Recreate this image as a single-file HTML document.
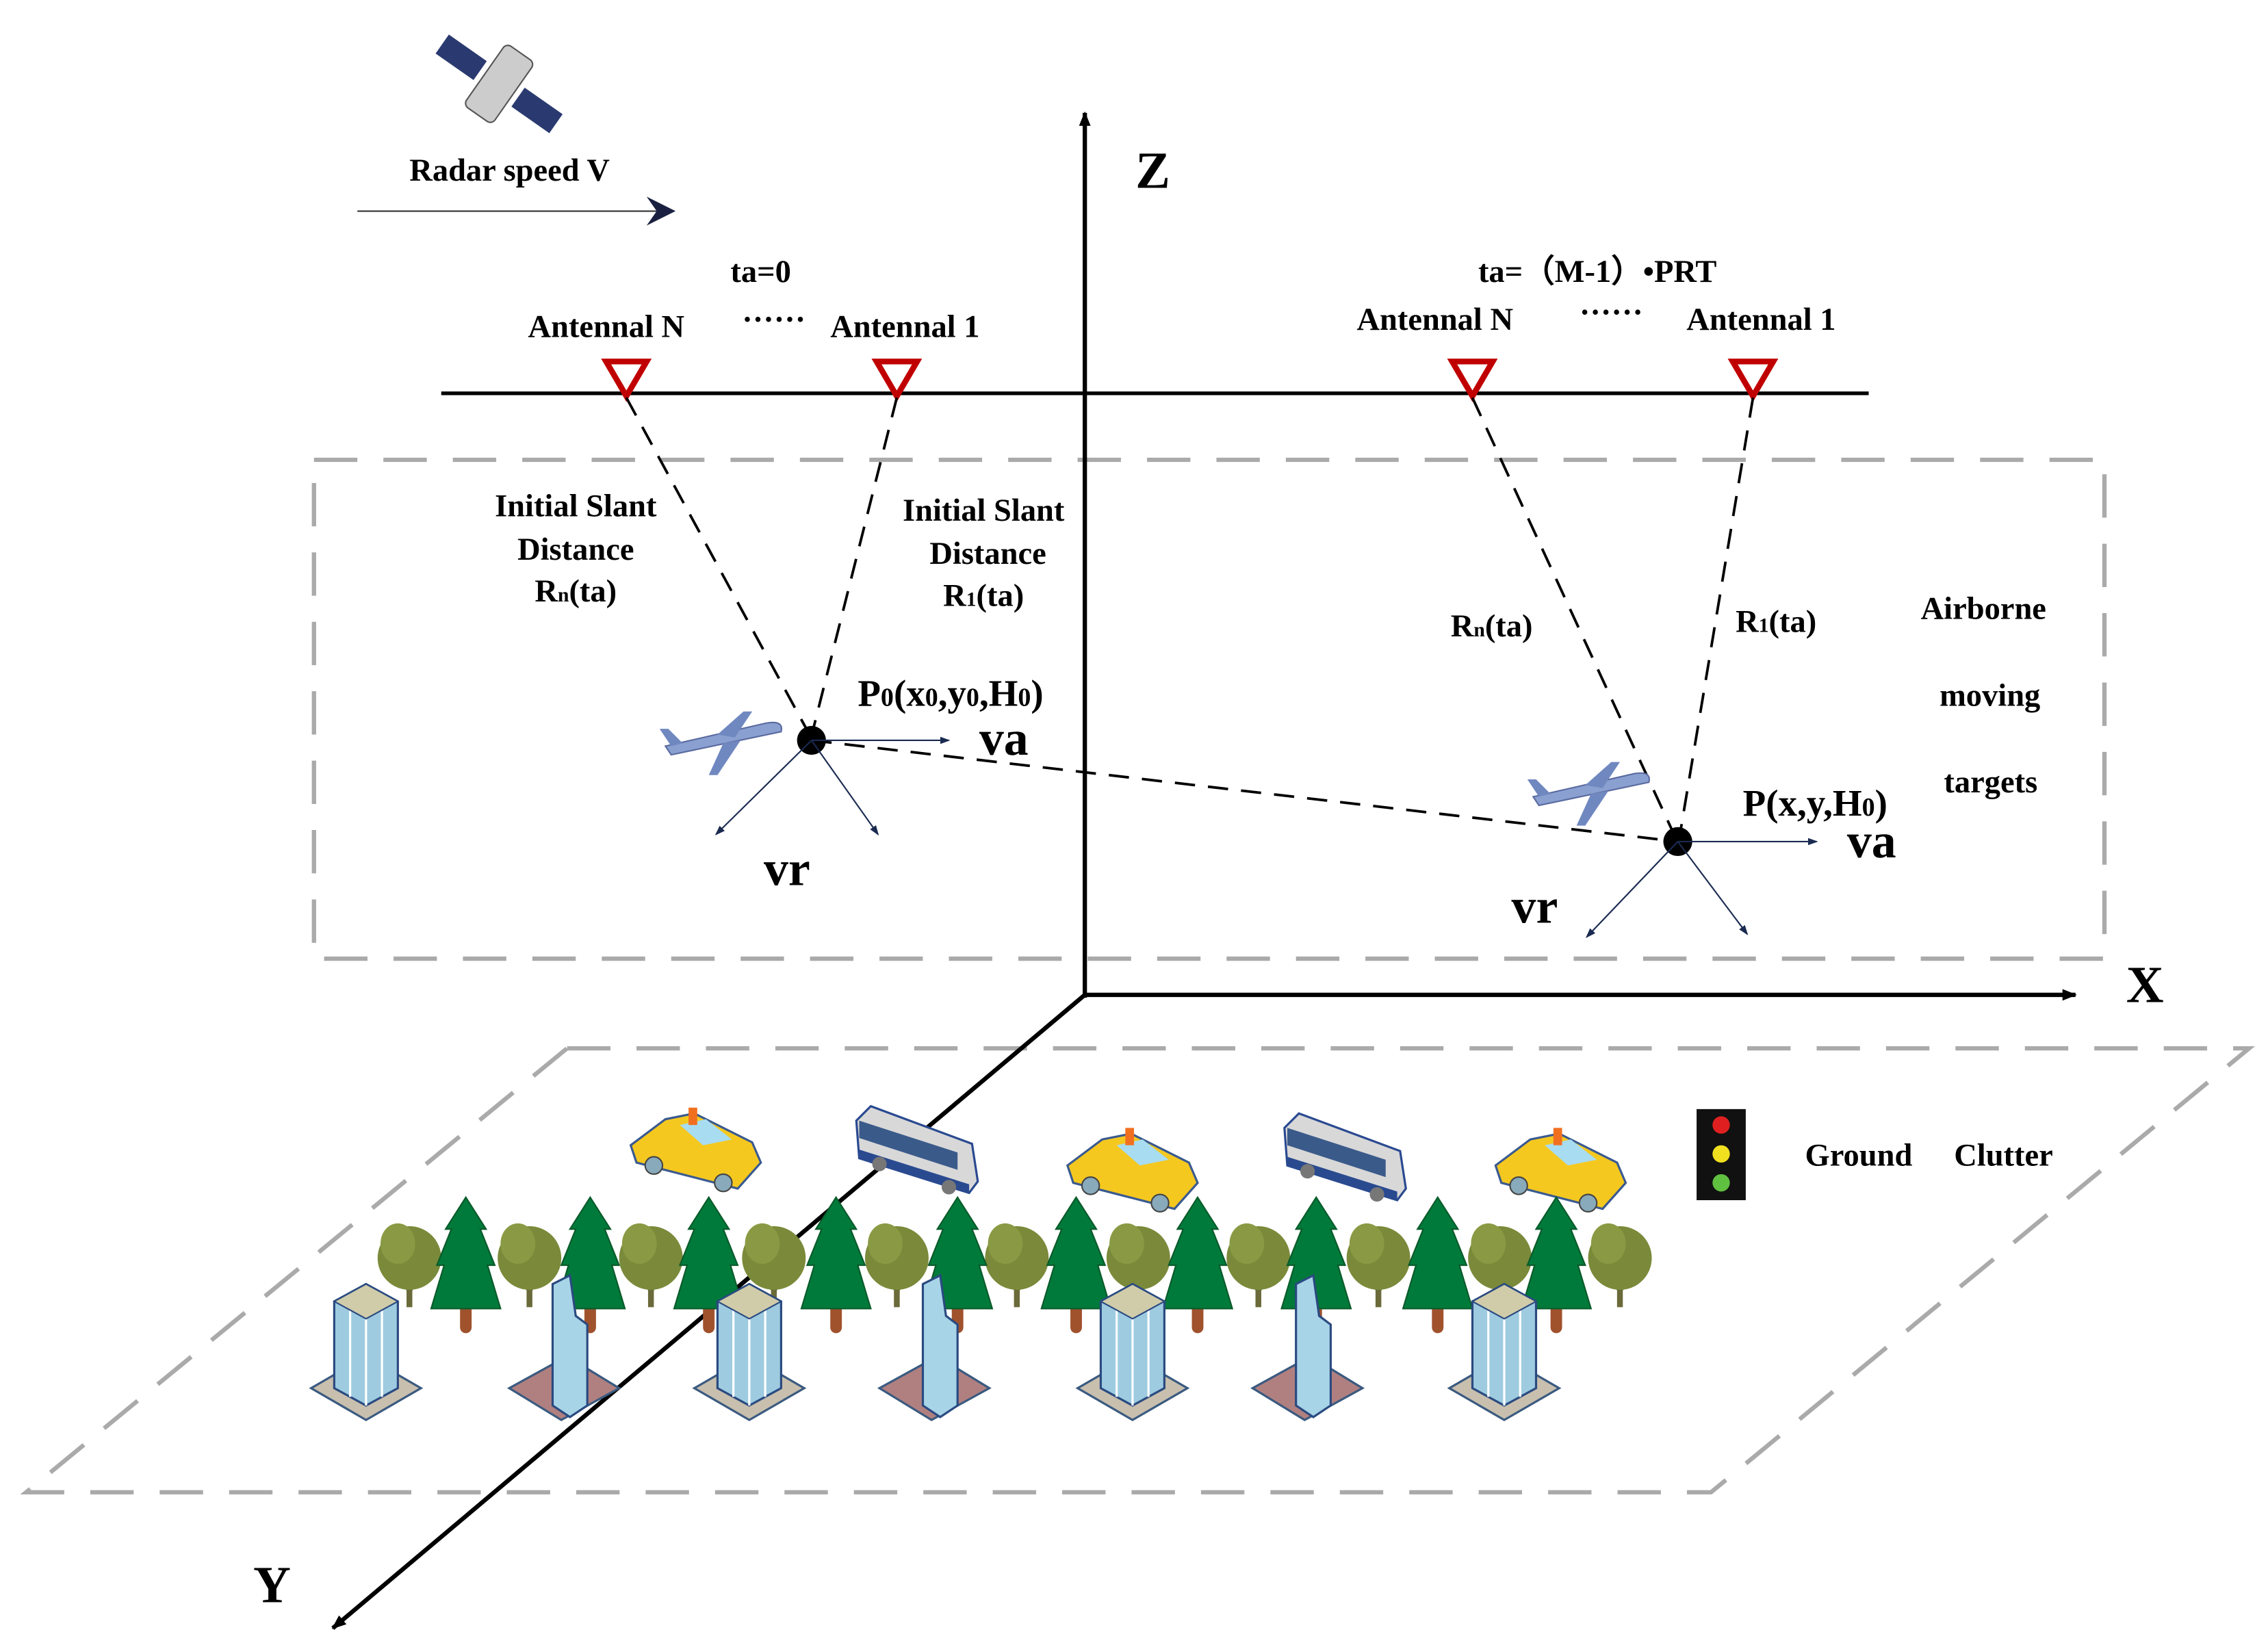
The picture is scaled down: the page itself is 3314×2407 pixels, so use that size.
<!DOCTYPE html>
<html><head><meta charset="utf-8"><style>
html,body{margin:0;padding:0;background:#fff;}
svg{display:block;}
text{font-family:"Liberation Serif",serif;font-weight:bold;fill:#000;}
</style></head><body>
<svg width="3314" height="2407" viewBox="0 0 1568 1139" xmlns="http://www.w3.org/2000/svg">
<defs>
<marker id="ah" markerWidth="10" markerHeight="10" refX="9" refY="5" orient="auto" markerUnits="userSpaceOnUse"><path d="M0,1 L10,5 L0,9 Z" fill="#000"/></marker>
<marker id="as" markerWidth="7" markerHeight="7" refX="6" refY="3.5" orient="auto" markerUnits="userSpaceOnUse"><path d="M0,1 L7,3.5 L0,6 Z" fill="#1a2a50"/></marker>
<g id="con"><rect x="-4" y="50" width="8" height="22" rx="4" fill="#a0522d"/><path d="M0,-22 L14,0 L10,0 L20,25 L15,25 L24,55 L-24,55 L-15,25 L-20,25 L-10,0 L-14,0 Z" fill="#007a3a" stroke="#0a5a2a"/></g>
<g id="dec"><path d="M0,52 L0,30 M0,40 L-8,25 M0,40 L9,26" stroke="#6a6a3a" stroke-width="4"/><ellipse cx="0" cy="18" rx="22" ry="22" fill="#7a8a3a"/><ellipse cx="-8" cy="8" rx="12" ry="14" fill="#8a9a44"/></g>
<g id="tow"><path d="M0,60 L38,82 L76,60 L38,38 Z" fill="#c8bfae" stroke="#3a5a80" stroke-width="1.5"/><path d="M16,0 L38,-12 L60,0 L60,60 L38,72 L16,60 Z" fill="#9ecbe0" stroke="#2a4a80" stroke-width="1.5"/><path d="M38,12 L38,72 M27,6 L27,66 M49,6 L49,66" stroke="#fff" stroke-width="1.5"/><path d="M16,0 L38,12 L60,0 L38,-12 Z" fill="#d0ccaa" stroke="#2a4a80"/></g>
<g id="slim"><path d="M0,60 L36,82 L76,60 L40,38 Z" fill="#b08080" stroke="#3a5a80" stroke-width="1.5"/><path d="M30,-12 L42,-18 L46,10 L54,16 L54,72 L42,80 L30,72 Z" fill="#a8d4e8" stroke="#2a4a80" stroke-width="1.5"/></g>
<g id="taxi"><path d="M-44,0 L-20,-18 L0,-22 L40,-2 L46,12 L30,30 L-40,12 Z" fill="#f5c820" stroke="#3a5a90" stroke-width="1.5"/><path d="M-10,-14 L8,-18 L26,-4 L6,0 Z" fill="#a8dcf0"/><rect x="-4" y="-26" width="6" height="12" fill="#f07020"/><circle cx="-28" cy="14" r="6" fill="#8ab" stroke="#444"/><circle cx="20" cy="26" r="6" fill="#8ab" stroke="#444"/></g>
<g id="bus"><path d="M-40,-20 L-30,-30 L40,-4 L44,22 L38,30 L-38,6 Z" fill="#d8d8d8" stroke="#2a4a90" stroke-width="1.5"/><path d="M-38,-8 L30,14 L30,2 L-38,-20 Z" fill="#3a5a8a"/><path d="M-38,6 L38,30 L38,24 L-38,0 Z" fill="#2a4a90"/><circle cx="-24" cy="10" r="5" fill="#777"/><circle cx="24" cy="26" r="5" fill="#777"/></g>
<g id="plane"><path d="M-40,6 L30,-10 Q42,-12 40,-4 L-36,12 Z" fill="#8aa0d0" stroke="#5a6aa0"/><path d="M-4,-2 L14,-18 L20,-18 L8,0 Z M0,4 L-10,26 L-4,26 L12,2 Z" fill="#7088c0"/><path d="M-36,6 L-44,-6 L-38,-6 L-28,4 Z" fill="#7088c0"/></g>
</defs>

<path d="M392,725 L1555,725 L1183,1032 L18,1032 Z" fill="none" stroke="#aaa" stroke-width="3" stroke-dasharray="30,18"/>
<rect x="217" y="318" width="1238" height="345" fill="none" stroke="#aaa" stroke-width="3" stroke-dasharray="30,18"/>

<g transform="translate(345,58) rotate(35)">
<rect x="-48" y="-8" width="32" height="16" fill="#2a3a70"/><rect x="16" y="-8" width="32" height="16" fill="#2a3a70"/>
<rect x="-12" y="-26" width="24" height="52" rx="4" fill="#ccc" stroke="#555"/>
</g>
<text x="283" y="125" font-size="22">Radar speed V</text>
<line x1="247" y1="146" x2="455" y2="146" stroke="#333" stroke-width="1"/>
<path d="M447,136 L467,146 L447,156 L454,146 Z" fill="#1a2040"/>

<line x1="750" y1="690" x2="750" y2="78" stroke="#000" stroke-width="3" marker-end="url(#ah)"/>
<line x1="750" y1="688" x2="1435" y2="688" stroke="#000" stroke-width="3" marker-end="url(#ah)"/>
<line x1="750" y1="688" x2="230" y2="1126" stroke="#000" stroke-width="3" marker-end="url(#ah)"/>
<text x="785" y="130" font-size="36">Z</text>
<text x="1470" y="693" font-size="36">X</text>
<text x="175" y="1108" font-size="36">Y</text>

<line x1="305" y1="272" x2="1292" y2="272" stroke="#000" stroke-width="2.5"/>
<g fill="#fff" stroke="#c00000" stroke-width="4">
<path d="M419,250 L447,250 L433,274 Z"/><path d="M606,250 L634,250 L620,274 Z"/>
<path d="M1004,250 L1032,250 L1018,274 Z"/><path d="M1198,250 L1226,250 L1212,274 Z"/>
</g>
<text x="505" y="195" font-size="22">ta=0</text>
<text x="365" y="233" font-size="22">Antennal N</text>
<text x="513" y="228" font-size="22">······</text>
<text x="574" y="233" font-size="22">Antennal 1</text>
<text x="1022" y="195" font-size="22">ta=（M-1）•PRT</text>
<text x="938" y="228" font-size="22">Antennal N</text>
<text x="1092" y="223" font-size="22">······</text>
<text x="1166" y="228" font-size="22">Antennal 1</text>

<g stroke="#000" stroke-width="1.8" stroke-dasharray="14,9" fill="none">
<line x1="433" y1="275" x2="558" y2="505"/><line x1="620" y1="275" x2="562" y2="505"/>
<line x1="1018" y1="275" x2="1156" y2="574"/><line x1="1212" y1="275" x2="1162" y2="574"/>
<line x1="561" y1="512" x2="1160" y2="582"/>
</g>

<use href="#plane" x="500" y="510"/>
<use href="#plane" x="1100" y="545"/>

<circle cx="561" cy="512" r="10" fill="#000"/>
<circle cx="1160" cy="582" r="10" fill="#000"/>
<g stroke="#1a2a50" stroke-width="1" marker-end="url(#as)">
<line x1="561" y1="512" x2="656" y2="512"/><line x1="561" y1="512" x2="495" y2="577"/><line x1="561" y1="512" x2="607" y2="577"/>
<line x1="1160" y1="582" x2="1256" y2="582"/><line x1="1160" y1="582" x2="1097" y2="648"/><line x1="1160" y1="582" x2="1208" y2="646"/>
</g>

<g font-size="22" text-anchor="middle">
<text x="398" y="357">Initial Slant</text><text x="398" y="387">Distance</text><text x="398" y="416">R<tspan font-size="14">n</tspan>(ta)</text>
<text x="680" y="360">Initial Slant</text><text x="683" y="390">Distance</text><text x="680" y="419">R<tspan font-size="14">1</tspan>(ta)</text>
</g>
<text x="593" y="488" font-size="26">P<tspan font-size="18">0</tspan>(x<tspan font-size="18">0</tspan>,y<tspan font-size="18">0</tspan>,H<tspan font-size="18">0</tspan>)</text>
<text x="677" y="522" font-size="34">va</text>
<text x="528" y="612" font-size="34">vr</text>
<text x="1003" y="440" font-size="22">R<tspan font-size="14">n</tspan>(ta)</text>
<text x="1200" y="437" font-size="22">R<tspan font-size="14">1</tspan>(ta)</text>
<text x="1328" y="428" font-size="22">Airborne</text>
<text x="1341" y="488" font-size="22">moving</text>
<text x="1344" y="548" font-size="22">targets</text>
<text x="1205" y="564" font-size="26">P(x,y,H<tspan font-size="18">0</tspan>)</text>
<text x="1277" y="593" font-size="34">va</text>
<text x="1045" y="638" font-size="34">vr</text>

<rect x="1173" y="767" width="34" height="63" fill="#111"/>
<circle cx="1190" cy="778" r="6" fill="#e02020"/><circle cx="1190" cy="798" r="6" fill="#f0e020"/><circle cx="1190" cy="818" r="6" fill="#60c040"/>
<text x="1248" y="806" font-size="22">Ground</text><text x="1351" y="806" font-size="22">Clutter</text>

<use href="#taxi" x="480" y="792"/><use href="#bus" x="632" y="795"/><use href="#taxi" x="782" y="806"/><use href="#bus" x="928" y="800"/><use href="#taxi" x="1078" y="806"/>
<use href="#dec" x="283" y="852"/><use href="#dec" x="366" y="852"/><use href="#dec" x="450" y="852"/><use href="#dec" x="535" y="852"/><use href="#dec" x="620" y="852"/><use href="#dec" x="703" y="852"/><use href="#dec" x="787" y="852"/><use href="#dec" x="870" y="852"/><use href="#dec" x="953" y="852"/><use href="#dec" x="1037" y="852"/><use href="#dec" x="1120" y="852"/>
<use href="#con" x="322" y="850"/><use href="#con" x="408" y="850"/><use href="#con" x="490" y="850"/><use href="#con" x="578" y="850"/><use href="#con" x="662" y="850"/><use href="#con" x="744" y="850"/><use href="#con" x="828" y="850"/><use href="#con" x="910" y="850"/><use href="#con" x="994" y="850"/><use href="#con" x="1076" y="850"/>
<use href="#tow" x="215" y="900"/><use href="#slim" x="352" y="900"/><use href="#tow" x="480" y="900"/><use href="#slim" x="608" y="900"/><use href="#tow" x="745" y="900"/><use href="#slim" x="866" y="900"/><use href="#tow" x="1002" y="900"/>
</svg>
</body></html>
